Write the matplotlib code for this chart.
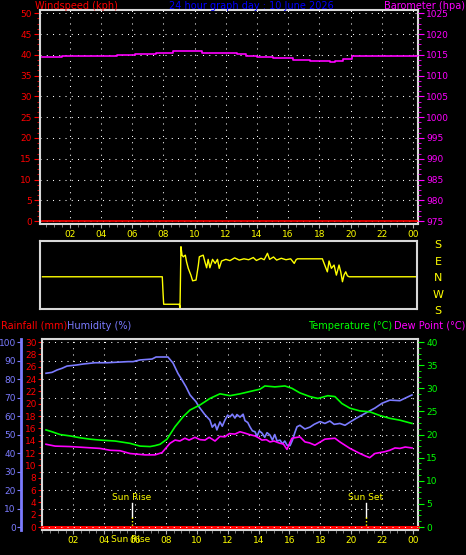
import matplotlib
matplotlib.use('Agg')
import matplotlib.pyplot as plt
import matplotlib.transforms as mtransforms
from matplotlib.ticker import MultipleLocator, AutoMinorLocator

plt.rcParams['font.family'] = ['DejaVu Sans']

# ---- values ----
hours = list(range(2, 25, 2))
hour_labels = ['%02d' % (h % 24) for h in hours]

# top panel
wind_t = [0.25, 24.3]
wind_kph = [0, 0]
baro_t = [0.25, 1.5, 3.0, 5.0, 6.2, 7.5, 8.6, 10.4, 10.45, 12.3, 12.7, 13.3, 14.0,
          15.0, 16.3, 17.4, 18.7, 19.0, 19.5, 20.1, 21.9, 24.3]
baro_hpa = [1014.5, 1014.6, 1014.7, 1014.9, 1015.1, 1015.4, 1015.8, 1015.8, 1015.5,
            1015.5, 1015.1, 1014.8, 1014.4, 1014.2, 1013.8, 1013.5, 1013.2, 1013.6,
            1013.9, 1014.6, 1014.8, 1014.8]

# wind direction (compass bearing, degrees)
dir_t = [0.25, 7.95, 8.0, 8.04, 9.04, 9.09, 9.15, 9.22, 9.30, 9.43, 9.51, 9.62, 9.79,
         9.90, 10.12, 10.27, 10.33, 10.58, 10.69, 10.80, 10.90, 11.01, 11.18, 11.35,
         11.50, 11.61, 11.76, 12.04, 12.3, 12.6, 12.9, 13.2, 13.5, 13.8, 14.0, 14.3,
         14.5, 14.71, 14.85, 15.1, 15.3, 15.6, 15.9, 16.2, 16.43, 16.55, 16.64, 18.24,
         18.35, 18.56, 18.67, 18.82, 18.99, 19.14, 19.31, 19.42, 19.53, 19.63, 19.74,
         19.85, 19.96, 24.3]
dir_deg = [7, 7, 278, 217, 217, 198, 171, 125, 116, 125, 89, 53, 16,
           345, 349, 71, 116, 125, 89, 56, 102, 56, 102, 80,
           102, 53, 93, 102, 95, 110, 98, 105, 100, 112, 96, 108,
           100, 135, 102, 115, 98, 108, 100, 105, 80, 100, 105, 105,
           80, 34, 93, 53, 71, 16, 71, 34, 340, 16, 34,
           12, 7, 7]
dir_names = ['S', 'E', 'N', 'W', 'S']
dir_pos = [180, 90, 0, -90, -180]

# lower panel
rain_t = [-0.03, 24.33]
rain_mm = [0, 0]
hum_t = [0.23, 0.62, 0.95, 1.27, 1.59, 2.24, 2.63, 3.41, 4.18, 5.54, 5.87, 6.32, 7.10,
         7.36, 8.13, 8.46, 8.78, 9.04, 9.30, 9.56, 9.95, 10.14, 10.5, 10.85, 11.0,
         11.18, 11.3, 11.5, 11.65, 11.82, 12.0, 12.15, 12.3, 12.47, 12.6, 12.8, 13.0,
         13.12, 13.3, 13.44, 13.6, 13.77, 13.9, 14.05, 14.22, 14.4, 14.55, 14.74, 14.9,
         15.05, 15.2, 15.39, 15.55, 15.7, 15.84, 16.04, 16.2, 16.35, 16.49, 16.68, 17.0,
         17.33, 17.6, 17.98, 18.3, 18.62, 18.9, 19.27, 19.6, 19.92, 20.31, 20.70, 21.09,
         21.54, 22.0, 22.51, 23.16, 23.48, 23.94]
hum_pct = [83.1, 83.6, 84.9, 85.8, 87.0, 87.6, 88.1, 88.8, 88.8, 89.4, 89.4, 90.3, 90.8,
           91.9, 91.9, 88.6, 83.0, 79.5, 75.8, 71.4, 67.7, 65.0, 61.0, 57.8, 54.0,
           55.7, 52.5, 56.8, 54.5, 57.8, 60.5, 59.6, 61.0, 58.9, 60.8, 59.4, 61.0,
           57.5, 56.5, 54.2, 52.0, 51.5, 49.0, 52.0, 50.8, 48.5, 51.0, 49.7, 47.0,
           50.0, 46.5, 47.0, 45.0, 46.5, 44.3, 44.0, 47.0, 51.0, 54.2, 55.0, 53.0,
           54.0, 55.5, 57.0, 56.0, 57.3, 55.5, 56.0, 55.0, 56.7, 58.7, 60.5, 62.3,
           64.3, 66.9, 68.6, 68.3, 69.6, 71.4]
temp_t = [0.23, 0.62, 1.14, 1.79, 2.44, 3.08, 3.73, 4.70, 5.67, 6.32, 6.97, 7.29, 7.62,
          8.07, 8.59, 9.10, 9.56, 10.21, 10.85, 11.50, 12.15, 12.80, 13.44, 14.09, 14.41,
          15.06, 15.71, 16.16, 16.68, 17.33, 17.85, 18.49, 18.95, 19.40, 19.92, 20.57,
          21.22, 21.87, 22.51, 23.16, 23.94]
temp_c = [21.0, 20.6, 20.0, 19.7, 19.3, 19.0, 18.8, 18.6, 18.1, 17.5, 17.4, 17.6, 17.9,
          19.0, 21.7, 23.8, 25.3, 26.4, 27.8, 28.8, 28.4, 28.8, 29.3, 29.8, 30.5,
          30.3, 30.5, 30.0, 29.0, 28.2, 27.8, 28.4, 28.2, 26.7, 25.7, 25.1,
          24.9, 24.1, 23.5, 23.1, 22.4]
dew_t = [0.23, 0.82, 1.79, 2.76, 3.73, 4.38, 5.03, 5.67, 6.65, 7.29, 7.75, 8.26, 8.59,
         8.9, 9.23, 9.5, 9.88, 10.2, 10.53, 10.8, 11.18, 11.5, 11.82, 12.1, 12.47, 12.8,
         13.12, 13.4, 13.77, 14.0, 14.22, 14.5, 14.74, 15.0, 15.39, 15.6, 15.84, 16.16,
         16.68, 17.01, 17.3, 17.65, 18.30, 18.95, 19.27, 19.92, 20.57, 20.90, 21.2,
         21.54, 22.19, 22.5, 22.84, 23.16, 23.5, 23.94]
dew_c = [17.9, 17.5, 17.4, 17.2, 17.0, 16.6, 16.5, 15.9, 15.6, 15.6, 16.1, 18.1, 18.8,
         18.6, 19.2, 18.8, 19.4, 18.9, 18.8, 19.4, 18.6, 19.6, 19.5, 20.2, 20.1, 20.6,
         20.3, 20.0, 19.7, 19.3, 18.8, 18.9, 18.4, 18.6, 18.1, 18.0, 16.8, 19.2,
         19.5, 18.4, 18.2, 17.7, 19.0, 19.2, 18.4, 17.0, 15.9, 15.4, 15.0,
         15.9, 16.3, 16.6, 17.1, 17.0, 17.3, 17.1]
sunrise = 5.8
sunset = 20.95

RED = '#ff0000'
MAG = '#ff00ff'
BLUE = '#0000ff'
HUMC = '#7b7bff'
GRN = '#00ff00'
YEL = '#ffff00'
FRAME = '#d8d8d8'
FS = 6.5
DOTS = (0, (1, 5))

fig = plt.figure(figsize=(4.66, 5.55), dpi=100, facecolor='black')


def frame(ax):
    ax.set_facecolor('black')
    for s in ax.spines.values():
        s.set_color(FRAME)
        s.set_linewidth(1.5)


def time_axis(ax, xlim):
    ax.set_xlim(*xlim)
    ax.set_xticks(hours)
    ax.set_xticklabels(hour_labels)
    ax.xaxis.set_minor_locator(MultipleLocator(0.5))
    ax.tick_params(axis='x', which='major', colors='#b0b0b0', labelcolor=YEL,
                   length=3, labelsize=FS, pad=1.5)
    ax.tick_params(axis='x', which='minor', colors='#909090', length=2.5)


# ---- top panel: windspeed / barometer ----
ax1 = fig.add_axes([0.0858, 0.5964, 0.8112, 0.3850])
frame(ax1)
ax1.plot(wind_t, wind_kph, color=RED, lw=1.2, zorder=3)
ax1.set_ylim(-0.7, 50.7)
ax1.yaxis.set_major_locator(MultipleLocator(5))
ax1.yaxis.set_minor_locator(AutoMinorLocator(4))
ax1.tick_params(axis='y', which='both', colors=RED, labelsize=FS, pad=2)
ax1.tick_params(axis='y', which='major', length=4)
ax1.tick_params(axis='y', which='minor', length=2)
time_axis(ax1, (0.09, 24.32))
ax1.grid(True, which='major', color='white', linestyle=DOTS, lw=0.75)

ax1b = ax1.twinx()
ax1b.plot(baro_t, baro_hpa, color=MAG, lw=1.2, drawstyle='steps-post', zorder=4)
ax1b.set_ylim(974.3, 1025.7)
ax1b.yaxis.set_major_locator(MultipleLocator(5))
ax1b.yaxis.set_minor_locator(AutoMinorLocator(4))
ax1b.tick_params(axis='y', which='both', colors=MAG, labelsize=FS, pad=2)
ax1b.tick_params(axis='y', which='major', length=4)
ax1b.tick_params(axis='y', which='minor', length=2)
for s in ax1b.spines.values():
    s.set_visible(False)

# ---- wind direction strip ----
ax2 = fig.add_axes([0.0858, 0.4432, 0.8090, 0.1225])
frame(ax2)
dir_plot = [((d + 180) % 360) - 180 for d in dir_deg]
ax2.plot(dir_t, dir_plot, color=YEL, lw=1.0)
ax2.set_xlim(0.09, 24.32)
ax2.set_ylim(-169, 202)
ax2.set_xticks([])
ax2.set_yticks([])
trans = mtransforms.blended_transform_factory(ax2.transAxes, ax2.transData)
for name, pos in zip(dir_names, dir_pos):
    ax2.text(1.056, pos, name, color=YEL, fontsize=8, ha='center', va='center',
             transform=trans, clip_on=False)

# ---- lower panel: rain / humidity / temperature / dew point ----
ax3 = fig.add_axes([0.0901, 0.0450, 0.8069, 0.3441])
frame(ax3)
time_axis(ax3, (-0.03, 24.33))
ax3.set_ylim(-0.48, 30.48)
ax3.plot(rain_t, rain_mm, color=RED, lw=2.2, zorder=5, clip_on=False)
ax3.yaxis.set_major_locator(MultipleLocator(2))
ax3.yaxis.set_minor_locator(AutoMinorLocator(2))
ax3.tick_params(axis='y', which='both', colors=RED, labelsize=FS, pad=1)
ax3.tick_params(axis='y', which='major', length=3)
ax3.tick_params(axis='y', which='minor', length=2)

axH = ax3.twinx()
axH.set_ylim(-1.6, 101.6)
axH.yaxis.set_ticks_position('left')
axH.yaxis.set_label_position('left')
axH.spines['left'].set_position(('axes', -0.0545))
axH.spines['left'].set_color(HUMC)
axH.spines['left'].set_linewidth(2)
for s in ['right', 'top', 'bottom']:
    axH.spines[s].set_visible(False)
axH.yaxis.set_major_locator(MultipleLocator(10))
axH.tick_params(axis='y', colors=HUMC, labelsize=FS, length=3, pad=1)
axH.grid(True, axis='y', color='white', linestyle=DOTS, lw=0.75)
ax3.grid(True, axis='x', color='white', linestyle=DOTS, lw=0.75)
axH.plot(hum_t, hum_pct, color=HUMC, lw=1.2, zorder=3)

axT = ax3.twinx()
axT.set_ylim(-0.64, 40.64)
for s in axT.spines.values():
    s.set_visible(False)
axT.yaxis.set_major_locator(MultipleLocator(5))
axT.yaxis.set_minor_locator(AutoMinorLocator(4))
axT.tick_params(axis='y', which='both', colors=GRN, labelsize=FS, pad=2)
axT.tick_params(axis='y', which='major', length=4)
axT.tick_params(axis='y', which='minor', length=2)
axT.plot(temp_t, temp_c, color=GRN, lw=1.2, zorder=3)
axT.plot(dew_t, dew_c, color=MAG, lw=1.2, zorder=3)

# sunrise / sunset markers (humidity scale for height)
for t, name in [(sunrise, 'Sun Rise'), (sunset, 'Sun Set')]:
    axH.plot([t, t], [13.0, 5.4], color='white', lw=1)
    axH.plot([t, t], [5.4, 0], color=YEL, lw=1, linestyle=(0, (1, 1.5)))
    axH.text(t, 16.2, name, color=YEL, fontsize=FS, ha='center', va='center')
# the original also prints "Sun Rise" on the hour-label row, over "06"
trans3 = mtransforms.blended_transform_factory(ax3.transData, ax3.transAxes)
ax3.text(sunrise - 0.1, -0.052, 'Sun Rise', color=YEL, fontsize=FS, ha='center',
         va='center', transform=trans3, clip_on=False)

# ---- titles ----
ty = 1 - 6 / 555
fig.text(35 / 466, ty, 'Windspeed (kph)', color=RED, fontsize=7, ha='left', va='center')
fig.text(251 / 466, ty, '24 hour graph day : 10 June 2026', color=BLUE, fontsize=7,
         ha='center', va='center')
fig.text(465 / 466, ty, 'Barometer (hpa)', color=MAG, fontsize=7, ha='right', va='center')
ly = 1 - 326 / 555
fig.text(1 / 466, ly, 'Rainfall (mm)', color=RED, fontsize=7, ha='left', va='center')
fig.text(67 / 466, ly, 'Humidity (%)', color=HUMC, fontsize=7, ha='left', va='center')
fig.text(392 / 466, ly, 'Temperature (°C)', color=GRN, fontsize=7, ha='right', va='center')
fig.text(465 / 466, ly, 'Dew Point (°C)', color=MAG, fontsize=7, ha='right', va='center')

fig.savefig('out.png', dpi=100, facecolor='black')
